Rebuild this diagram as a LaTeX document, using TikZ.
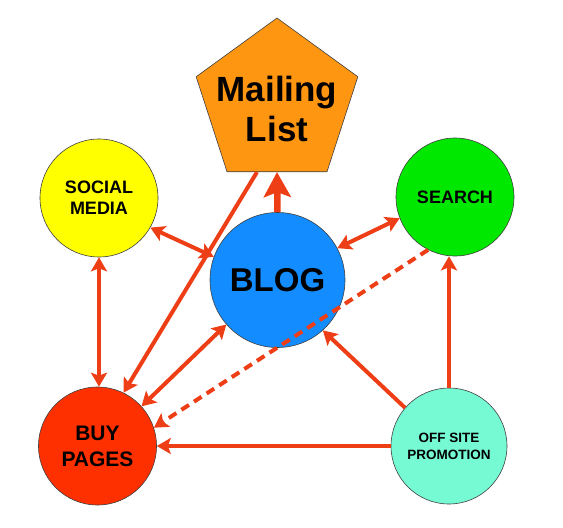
\documentclass[tikz,border=0pt]{standalone}
\usepackage{fontspec}
\setmainfont{Liberation Sans}
\usetikzlibrary{arrows.meta,shapes.geometric}
\definecolor{arrred}{RGB}{238,62,22}
\definecolor{cyellow}{RGB}{255,255,0}
\definecolor{cblue}{RGB}{18,140,255}
\definecolor{cgreen}{RGB}{0,232,0}
\definecolor{cred}{RGB}{255,48,0}
\definecolor{caqua}{RGB}{118,250,212}
\definecolor{corange}{RGB}{255,150,18}
\tikzset{
  bubble/.style={circle, inner sep=0pt, draw=black!75, line width=0.6pt, align=center, font=\bfseries},
  conn/.style={draw=arrred, line width=4pt, -{Stealth[length=14pt,width=16pt,inset=3pt]}},
  bconn/.style={draw=arrred, line width=4pt, {Stealth[length=14pt,width=16pt,inset=3pt]}-{Stealth[length=14pt,width=16pt,inset=3pt]}},
  thickconn/.style={draw=arrred, line width=6.5pt, -{Stealth[length=25pt,width=27pt,inset=5pt]}},
  dashconn/.style={conn, dash pattern=on 9pt off 6pt},
}
\begin{document}
\begin{tikzpicture}[x=1pt,y=-1pt]
\useasboundingbox (0,0) rectangle (563,528);
\fill[white] (0,0) rectangle (563,528);
% nodes
\node[regular polygon, regular polygon sides=5, minimum size=170pt, inner sep=0pt,
      fill=corange, draw=black!75, line width=0.6pt] (mail) at (277,103) {};
\node[align=center, inner sep=0pt, font=\bfseries\fontsize{35}{40}\selectfont] (mailtext) at (277,109) {Mailing\\List};
\node[bubble, fill=cyellow, minimum size=118pt, font=\bfseries\fontsize{18}{21}\selectfont] (social) at (99,198) {SOCIAL\\MEDIA};
\node[bubble, fill=cblue, minimum size=135pt, font=\bfseries\fontsize{33}{38}\selectfont] (blog) at (277.5,280) {BLOG};
\node[bubble, fill=cgreen, minimum size=118pt, font=\bfseries\fontsize{18}{21}\selectfont] (search) at (455,197) {SEARCH};
\node[bubble, fill=cred, minimum size=118pt, font=\bfseries\fontsize{21}{26}\selectfont] (buy) at (97.5,446) {BUY\\PAGES};
\node[bubble, fill=caqua, minimum size=116pt, font=\bfseries\fontsize{13.5}{17}\selectfont] (off) at (449,446) {OFF SITE\\PROMOTION};
% connectors
\draw[thickconn] (blog.north) -- (mail.south);
\draw[conn] ([xshift=-20pt]mail.south) -- (buy.64);
\draw[bconn] (social.-30) -- (blog.160);
\draw[bconn] (social.south) -- (social.south |- buy.north);
\draw[bconn] (search.201) -- (blog.28);
\draw[dashconn] (search.243) -- (buy.18);
\draw[bconn] (blog.221) -- (buy.42);
\draw[conn] (off.139) -- (blog.-48);
\draw[conn] (off.north) -- (off.north |- search.south);
\draw[conn] (off.west) -- (buy.east);
\end{tikzpicture}
\end{document}
